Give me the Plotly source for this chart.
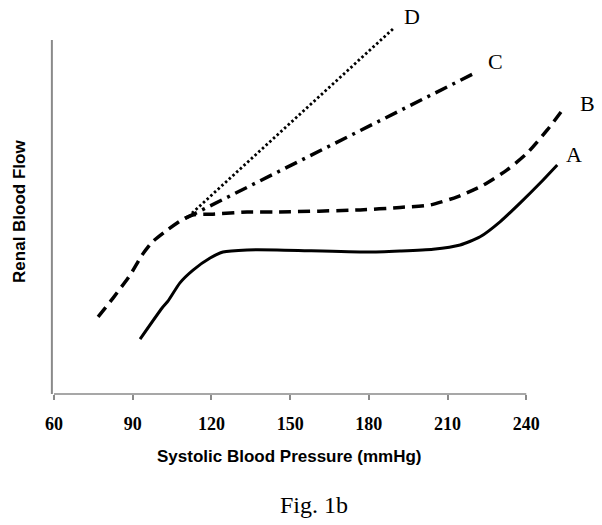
import plotly.graph_objects as go

# Curve data (x = systolic pressure in mmHg, y = relative renal blood flow)
a_x = [92.8, 101.2, 103.5, 108.0, 113.0, 119.5, 124.4, 133.6, 145.0, 179.4, 191.9, 204.5, 214.8, 222.4, 230.1, 237.7, 245.3, 251.8]
a_y = [15.5, 24.3, 26.3, 31.4, 35.0, 38.4, 40.1, 40.7, 40.7, 40.1, 40.4, 40.9, 42.1, 44.4, 48.7, 54.0, 59.6, 64.7]

b_x = [76.8, 82.5, 89.0, 93.6, 97.4, 103.1, 109.2, 113.0, 120.6, 133.6, 145.0, 176.7, 191.9, 203.4, 213.7, 223.6, 232.7, 240.4, 248.0, 254.8]
b_y = [21.8, 27.1, 33.6, 39.3, 42.9, 46.3, 49.4, 50.6, 50.8, 51.4, 51.4, 52.0, 52.7, 53.4, 55.7, 59.0, 63.3, 68.1, 74.6, 81.2]

c_x = [110.0, 221.3]
c_y = [49.6, 91.0]

d_x = [112.6, 189.6]
d_y = [51.1, 103.4]

x_ticks = [60, 90, 120, 150, 180, 210, 240]
labels = ["A", "B", "C", "D"]

serif = "Liberation Serif, Times New Roman, serif"
sans = "Liberation Sans, Arial, sans-serif"

fig = go.Figure()
fig.add_trace(go.Scatter(x=a_x, y=a_y, mode="lines",
                         line=dict(color="black", width=3, shape="spline", smoothing=0.6)))
fig.add_trace(go.Scatter(x=b_x, y=b_y, mode="lines",
                         line=dict(color="black", width=3.5, dash="12px,7px", shape="spline", smoothing=0.6)))
fig.add_trace(go.Scatter(x=c_x, y=c_y, mode="lines",
                         line=dict(color="black", width=3.5, dash="13px,6px,3px,6px")))
fig.add_trace(go.Scatter(x=d_x, y=d_y, mode="lines",
                         line=dict(color="black", width=2.8, dash="2.5px,2.5px")))

# curve labels next to the curve ends
ends = [(a_x[-1], a_y[-1]), (b_x[-1], b_y[-1]), (c_x[-1], c_y[-1]), (d_x[-1], d_y[-1])]
offs = [(17, -10), (22, -3), (18, -10), (18, -11)]
for lab, (ex, ey), (ox, oy) in zip(labels, ends, offs):
    fig.add_annotation(x=ex, y=ey, text=lab, showarrow=False, xref="x", yref="y",
                       xanchor="center", yanchor="middle",
                       xshift=ox, yshift=-oy, font=dict(family=serif, size=22, color="black"))

# axis lines
fig.add_shape(type="line", xref="x", yref="paper", x0=x_ticks[0], x1=x_ticks[-1], y0=0, y1=0,
              line=dict(color="#8a8a8a", width=1.5))
fig.add_shape(type="line", xref="paper", yref="y", x0=-0.004, x1=-0.004, y0=0, y1=100,
              line=dict(color="#8a8a8a", width=2))

fig.add_annotation(text="Systolic Blood Pressure (mmHg)", xref="paper", yref="paper",
                   x=0.445, y=-0.168, showarrow=False, xanchor="center", yanchor="middle",
                   font=dict(family=sans, size=17, color="black", weight="bold"))
fig.add_annotation(text="Renal Blood Flow", xref="paper", yref="paper",
                   x=-0.064, y=0.487, showarrow=False, textangle=-90,
                   xanchor="center", yanchor="middle",
                   font=dict(family=sans, size=17, color="black", weight="bold"))
fig.add_annotation(text="Fig. 1b", xref="paper", yref="paper",
                   x=0.49, y=-0.297, showarrow=False, xanchor="center", yanchor="middle",
                   font=dict(family=serif, size=24, color="black"))

fig.update_layout(
    width=602, height=525,
    margin=dict(l=54, r=18, t=20, b=131),
    paper_bgcolor="white", plot_bgcolor="white",
    showlegend=False,
    xaxis=dict(range=[60, 262], tickvals=x_ticks, ticktext=[str(t) for t in x_ticks],
               showgrid=False, zeroline=False, showline=False,
               ticks="outside", ticklen=5, tickwidth=1.5, tickcolor="#8a8a8a",
               ticklabelstandoff=8,
               tickfont=dict(family=serif, size=18, color="black", weight="bold")),
    yaxis=dict(range=[0, 105.65], visible=False, showgrid=False, zeroline=False),
)

fig.write_html("out.html",
               config={"displayModeBar": False},
               post_script="document.body.style.margin='0';document.body.style.overflow='hidden';")
